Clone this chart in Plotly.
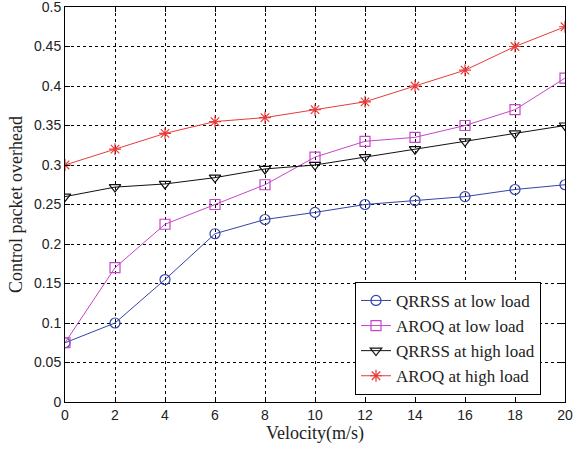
import plotly.graph_objects as go

velocity = [0, 2, 4, 6, 8, 10, 12, 14, 16, 18, 20]
qrrss_low = [0.075, 0.1, 0.155, 0.213, 0.231, 0.24, 0.25, 0.255, 0.26, 0.269, 0.275]
aroq_low = [0.075, 0.17, 0.225, 0.25, 0.275, 0.31, 0.33, 0.335, 0.35, 0.37, 0.41]
qrrss_high = [0.26, 0.272, 0.276, 0.284, 0.295, 0.3, 0.31, 0.32, 0.33, 0.34, 0.35]
aroq_high = [0.3, 0.32, 0.34, 0.355, 0.36, 0.37, 0.38, 0.4, 0.42, 0.45, 0.475]

x_ticks = [0, 2, 4, 6, 8, 10, 12, 14, 16, 18, 20]
y_ticks = [0, 0.05, 0.1, 0.15, 0.2, 0.25, 0.3, 0.35, 0.4, 0.45, 0.5]
y_ticktext = ["0", "0.05", "0.1", "0.15", "0.2", "0.25", "0.3", "0.35", "0.4", "0.45", "0.5"]

series = [
    ("QRRSS at low load", qrrss_low, "#3444a8", "circle-open"),
    ("AROQ at low load", aroq_low, "#c846c8", "square-open"),
    ("QRRSS at high load", qrrss_high, "#111111", "triangle-down-open"),
    ("AROQ at high load", aroq_high, "#e83a3a", "asterisk-open"),
]

fig = go.Figure()
for name, vals, color, sym in series:
    fig.add_trace(go.Scatter(
        x=velocity, y=vals, name=name, mode="lines+markers",
        line=dict(color=color, width=1),
        marker=dict(symbol=sym, size=10, color=color, line=dict(color=color, width=1.2)),
    ))

axis_common = dict(
    showline=True, linecolor="black", linewidth=1, mirror="ticks",
    ticks="inside", ticklen=5, tickcolor="black",
    showgrid=True, gridcolor="black", griddash="dot", gridwidth=1,
    zeroline=False, automargin=False, ticklabeloverflow="allow",
    tickfont=dict(family="Liberation Sans, Arial", size=14, color="#222"),
)

fig.update_xaxes(range=[0, 20], tickvals=x_ticks,
                 title=dict(text="Velocity(m/s)", standoff=2,
                            font=dict(family="Liberation Serif, Times New Roman", size=18, color="#222")),
                 **axis_common)
fig.update_yaxes(range=[0, 0.5], tickvals=y_ticks, ticktext=y_ticktext,
                 title=dict(text="Control packet overhead", standoff=6,
                            font=dict(family="Liberation Serif, Times New Roman", size=18, color="#222")),
                 **axis_common)

fig.update_layout(
    width=573, height=449,
    margin=dict(l=65, r=8, t=7, b=47),
    plot_bgcolor="white", paper_bgcolor="white",
    legend=dict(x=0.58, y=0.018, xanchor="left", yanchor="bottom",
                bgcolor="white", bordercolor="black", borderwidth=1,
                font=dict(family="Liberation Serif, Times New Roman", size=17, color="#222"),
                tracegroupgap=0),
    showlegend=True,
)

fig.write_html("out.html")
